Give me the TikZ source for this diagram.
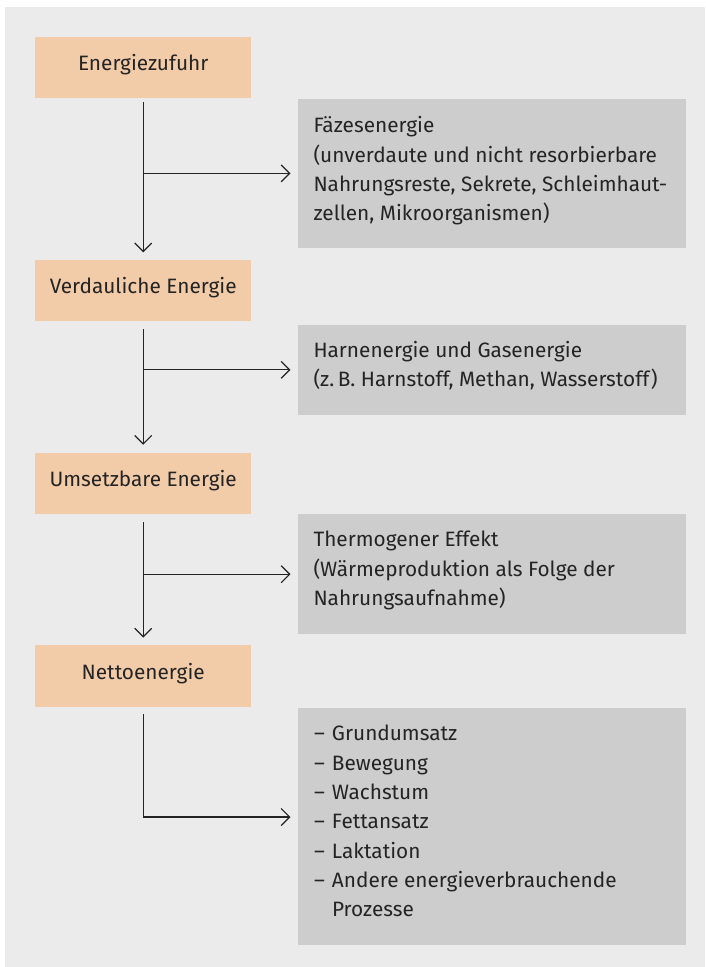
\documentclass[tikz,border=0pt]{standalone}
\usepackage{fontspec}
\setmainfont{Fira Sans}
\usetikzlibrary{arrows.meta}
\definecolor{panel}{HTML}{EBEBEB}
\definecolor{stagefill}{HTML}{F2CBA9}
\definecolor{lossfill}{HTML}{CDCDCD}
\definecolor{ink}{HTML}{242424}
\begin{document}
\begin{tikzpicture}[x=1pt,y=-1pt,
  every node/.style={text=ink, font=\fontsize{20.8}{29.3}\selectfont},
  stagebox/.style={fill=stagefill, minimum width=215.7pt, minimum height=61.3pt,
    inner sep=0pt, text height=13pt, text depth=7pt},
  lossbox/.style={fill=lossfill, anchor=north west, minimum width=388.2pt, inner sep=0pt},
  losstext/.style={anchor=base west, align=left, inner sep=0pt},
  flow/.style={draw=ink, line width=1.2pt,
    -{Straight Barb[length=8.5pt,width=17pt,line width=1.2pt]}}
]
\useasboundingbox (0,0) rectangle (705,967);
\fill[panel] (5,7) rectangle (705,967);

% stages of the energy balance
\node[stagebox] (s1) at (143.2,67.8)  {Energiezufuhr};
\node[stagebox] (s2) at (143.2,290.5) {Verdauliche Energie};
\node[stagebox] (s3) at (143.2,483.2) {Umsetzbare Energie};
\node[stagebox] (s4) at (143.2,676.0) {Nettoenergie};

% losses branching off
\node[lossbox, minimum height=148.3pt] (l1) at (297.5,99)   {};
\node[lossbox, minimum height=90.7pt]  (l2) at (297.5,324.3) {};
\node[lossbox, minimum height=120pt]   (l3) at (297.5,514)   {};
\node[lossbox, minimum height=236.6pt] (l4) at (297.5,707.7) {};

% texts of the losses (placed by the baseline of their last line)
\node[losstext] (t1) at (313.3,220.7) {Fäzesenergie\\(unverdaute und nicht resorbierbare\\Nahrungsreste, Sekrete, Schleimhaut-\\zellen, Mikroorganismen)};
\node[losstext] (t2) at (313.3,386.7) {Harnenergie und Gasenergie\\(z.\,B. Harnstoff, Methan, Wasserstoff)};
\node[losstext] (t3) at (313.3,605.5) {Thermogener Effekt\\(Wärmeproduktion als Folge der\\Nahrungsaufnahme)};
\node[losstext] (t4) at (313.8,916.7) {\makebox[18pt][l]{–}Grundumsatz\\
  \makebox[18pt][l]{–}Bewegung\\
  \makebox[18pt][l]{–}Wachstum\\
  \makebox[18pt][l]{–}Fettansatz\\
  \makebox[18pt][l]{–}Laktation\\
  \makebox[18pt][l]{–}Andere energieverbrauchende\\
  \hspace*{18pt}Prozesse};

% main flow
\draw[flow, shorten <=3.3pt, shorten >=7.3pt] (s1.south) -- (s2.north);
\draw[flow, shorten <=8pt, shorten >=7.6pt] (s2.south) -- (s3.north);
\draw[flow, shorten <=8pt, shorten >=7.6pt] (s3.south) -- (s4.north);

% branches
\draw[flow, shorten >=7pt] (s1.south |- l1.west) -- (l1.west);
\draw[flow, shorten >=7pt] (s2.south |- l2.west) -- (l2.west);
\draw[flow, shorten >=7pt] (s3.south |- l3.west) -- (l3.west);
\coordinate (in4) at (297.5,817);
\draw[flow, shorten <=7.3pt, shorten >=7pt] (s4.south) |- (in4);
\end{tikzpicture}
\end{document}
